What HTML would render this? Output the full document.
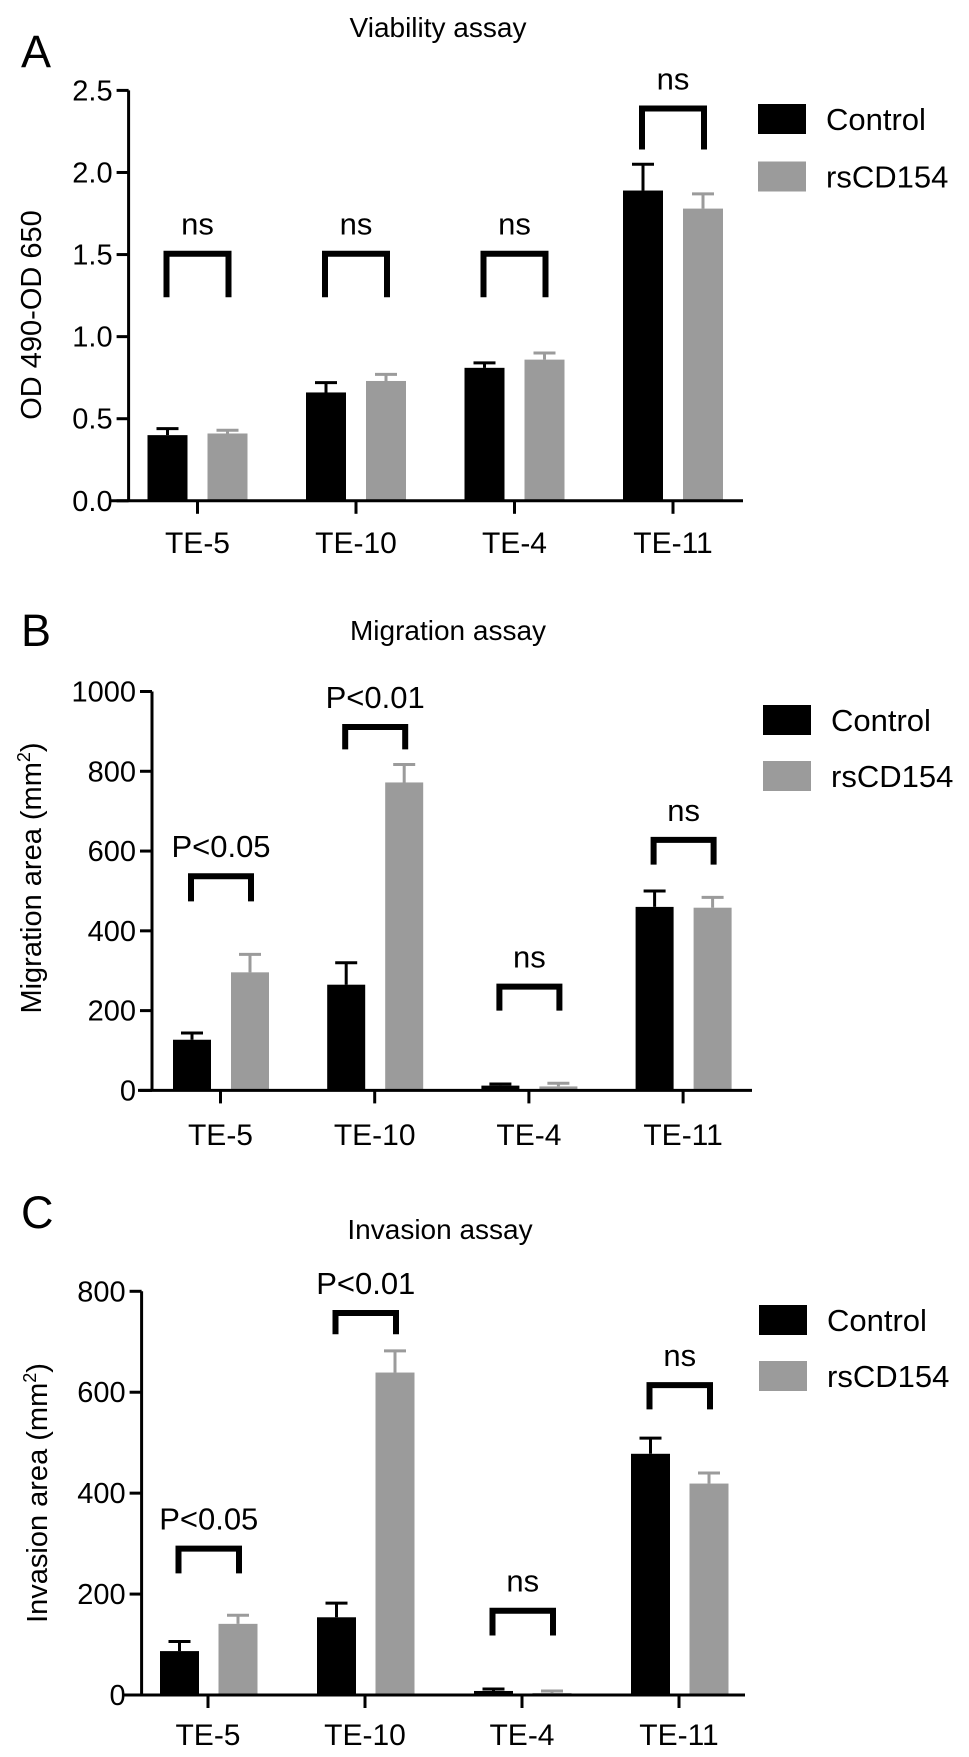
<!DOCTYPE html>
<html><head><meta charset="utf-8"><style>
html,body{margin:0;padding:0;background:#fff;}
svg{display:block;font-family:"Liberation Sans",Arial,sans-serif;}
</style></head><body>
<svg id="fig" width="969" height="1757" viewBox="0 0 969 1757" xmlns="http://www.w3.org/2000/svg"></svg>
<script>
const categories = ["TE-5","TE-10","TE-4","TE-11"];
// Panel A
const aControl = [0.40,0.66,0.81,1.89];
const aControlErr = [0.44,0.72,0.84,2.05];
const aRs = [0.41,0.73,0.86,1.78];
const aRsErr = [0.43,0.77,0.90,1.87];
const aTicks = ["0.0","0.5","1.0","1.5","2.0","2.5"];
const aTickVals = [0,0.5,1,1.5,2,2.5];
const aBrTop = [1.505,1.505,1.505,2.39];
const aBrBot = [1.24,1.24,1.24,2.14];
const aLabels = ["ns","ns","ns","ns"];
// Panel B
const bControl = [127,265,12,460];
const bControlErr = [144,320,16,500];
const bRs = [296,772,10,458];
const bRsErr = [341,817,18,484];
const bTicks = ["0","200","400","600","800","1000"];
const bTickVals = [0,200,400,600,800,1000];
const bBrTop = [537,911,260,628];
const bBrBot = [474,855,200,566];
const bLabels = ["P<0.05","P<0.01","ns","ns"];
// Panel C
const cControl = [87,154,8,478];
const cControlErr = [106,182,12,509];
const cRs = [141,639,4,419];
const cRsErr = [158,682,8,440];
const cTicks = ["0","200","400","600","800"];
const cTickVals = [0,200,400,600,800];
const cBrTop = [290,757,167,614];
const cBrBot = [241,715,118,566];
const cLabels = ["P<0.05","P<0.01","ns","ns"];

const NS="http://www.w3.org/2000/svg";
const svg=document.getElementById('fig');
function mk(tag,attrs,parent,text){const e=document.createElementNS(NS,tag);for(const k in attrs)e.setAttribute(k,attrs[k]);if(text!==undefined)e.textContent=text;(parent||svg).appendChild(e);return e;}

function panel(p){
  const g=mk('g',{});
  
  
  const y=v=>p.y0-(v/p.max)*(p.y0-p.yTop);
  const cx=i=>p.cat0+i*p.step;
  const L=mk('text',{x:21,y:p.letterY+16,'font-size':45},g,p.letter.toUpperCase());
  
  
  const T=mk('text',{x:p.titleX,y:p.titleY+10,'font-size':28,'text-anchor':'middle'},g,p.title);
  
  
  const yt=mk('text',{x:0,y:0,'font-size':29,'text-anchor':'middle',transform:`translate(${p.ytX+10},${p.ytY}) rotate(-90)`},g);
  
  
  if(p.sup){yt.appendChild(document.createTextNode(p.ytitle));mk('tspan',{'font-size':18,dy:-11},yt,'2');mk('tspan',{dy:11},yt,')');}
  else yt.textContent=p.ytitle;
  for(let i=0;i<categories.length;i++){
    [[p.ctrl,p.ctrlErr,-p.off1,'#000','control'],[p.rs,p.rsErr,p.off2,'#9b9b9b','rscd154']].forEach(([vals,errs,o,col,nm])=>{
      const c=cx(i)+o, w=p.bw;
      const r=mk('rect',{x:c-w/2,y:y(vals[i]),width:w,height:p.y0-y(vals[i]),fill:col},g);
      
      
      const e=mk('path',{d:`M${c} ${y(vals[i])}V${y(errs[i])}M${c-11} ${y(errs[i])}H${c+11}`,stroke:col,'stroke-width':3,fill:'none'},g);
      
      
    });
    const x1=cx(i)-p.off1-1,x2=cx(i)+p.off2+1;
    const b=mk('path',{d:`M${x1} ${y(p.brBot[i])}V${y(p.brTop[i])}H${x2}V${y(p.brBot[i])}`,stroke:'#000','stroke-width':6,fill:'none'},g);
    
    
    const lt=mk('text',{x:(x1+x2)/2,y:y(p.brTop[i])-30+11,'font-size':31,'text-anchor':'middle'},g,p.labels[i]);
    
    
    const xt=mk('line',{x1:cx(i),x2:cx(i),y1:p.y0,y2:p.y0+13,stroke:'#000','stroke-width':3},g);
    
    
    const xl=mk('text',{x:cx(i),y:p.xlY+11,'font-size':30,'text-anchor':'middle'},g,categories[i]);
    
    
  }
  const ax=mk('path',{d:`M${p.ax} ${p.yTop}V${p.y0}M${p.xStart} ${p.y0}H${p.xEnd}`,stroke:'#000','stroke-width':3,fill:'none'},g);
  
  
  p.tickVals.forEach((v,k)=>{
    const t=mk('line',{x1:p.ax-12,x2:p.ax,y1:y(v),y2:y(v),stroke:'#000','stroke-width':3},g);
    
    
    const tl=mk('text',{x:p.ax-16,y:y(v)+10,'font-size':29,'text-anchor':'end'},g,p.ticks[k]);
    
    
  });
  [['#000','Control',p.leg1],['#9b9b9b','rsCD154',p.leg2]].forEach(([col,name,ly])=>{
    const s=mk('rect',{x:p.legX,y:ly,width:48,height:30,fill:col},g);
    
    
    const t=mk('text',{x:p.legX+68,y:ly+15+11,'font-size':31},g,name);
    
    
  });
}

panel({id:'a',letter:'a',letterY:51,title:'Viability assay',titleX:438,titleY:27,ytitle:'OD 490-OD 650',sup:false,ytX:31,ytY:315,
  max:2.5,y0:500.8,yTop:90.4,ax:128.6,xStart:111,xEnd:743,cat0:197.5,step:158.5,off1:30,off2:30,bw:40,
  ctrl:aControl,ctrlErr:aControlErr,rs:aRs,rsErr:aRsErr,brTop:aBrTop,brBot:aBrBot,labels:aLabels,ticks:aTicks,tickVals:aTickVals,
  xlY:542,legX:758,leg1:104,leg2:161.5});
panel({id:'b',letter:'b',letterY:630,title:'Migration assay',titleX:448,titleY:630,ytitle:'Migration area (mm',sup:true,ytX:31,ytY:878,
  max:1000,y0:1090.4,yTop:691.5,ax:152,xStart:138,xEnd:752,cat0:220.5,step:154.2,off1:28.5,off2:29.5,bw:38,
  ctrl:bControl,ctrlErr:bControlErr,rs:bRs,rsErr:bRsErr,brTop:bBrTop,brBot:bBrBot,labels:bLabels,ticks:bTicks,tickVals:bTickVals,
  xlY:1134,legX:763,leg1:705,leg2:761});
panel({id:'c',letter:'c',letterY:1212,title:'Invasion assay',titleX:440,titleY:1229,ytitle:'Invasion area (mm',sup:true,ytX:37,ytY:1493,
  max:800,y0:1695,yTop:1291.3,ax:141.6,xStart:124,xEnd:745,cat0:208,step:157,off1:28.5,off2:30,bw:39,
  ctrl:cControl,ctrlErr:cControlErr,rs:cRs,rsErr:cRsErr,brTop:cBrTop,brBot:cBrBot,labels:cLabels,ticks:cTicks,tickVals:cTickVals,
  xlY:1734,legX:759,leg1:1305,leg2:1361});
</script>
</body></html>
